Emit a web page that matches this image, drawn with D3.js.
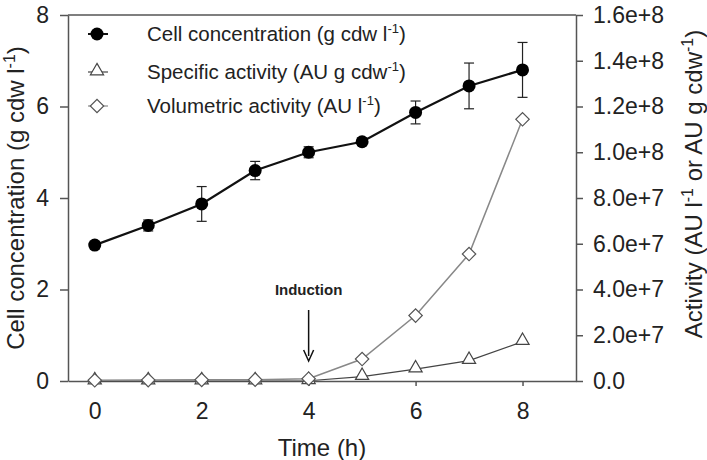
<!DOCTYPE html>
<html>
<head>
<meta charset="utf-8">
<script src="https://cdn.jsdelivr.net/npm/d3@7"></script>
<style>
  body { margin: 0; background: #fff; }
  svg text { font-family: "Liberation Sans", Arial, sans-serif; fill: #222; }
</style>
</head>
<body>
<div id="chart"></div>
<script>
// time points (h)
const time = [0, 1, 2, 3, 4, 5, 6, 7, 8];
// cell concentration (g cdw l-1) and its error
const cellConc = [2.97, 3.40, 3.87, 4.60, 5.00, 5.23, 5.87, 6.45, 6.80];
const cellErr = [0.08, 0.12, 0.38, 0.20, 0.12, 0.08, 0.25, 0.50, 0.60];
// specific activity (AU g cdw-1)
const specAct = [0, 0, 0, 0, 0.1e6, 1.9e6, 5.2e6, 8.9e6, 1.72e7];
// volumetric activity (AU l-1)
const volAct = [0.3e6, 0.4e6, 0.5e6, 0.6e6, 1.0e6, 9.6e6, 2.86e7, 5.55e7, 1.144e8];

const xTicks = [0, 2, 4, 6, 8];
const yLeftTicks = [0, 2, 4, 6, 8];
const yRightTicks = [0, 2e7, 4e7, 6e7, 8e7, 1e8, 1.2e8, 1.4e8, 1.6e8];

const legendLabels = [
  ["Cell concentration (g cdw l", "-1", ")"],
  ["Specific activity (AU g cdw", "-1", ")"],
  ["Volumetric activity (AU l", "-1", ")"]
];

const width = 707, height = 460;
const svg = d3.select("#chart").append("svg")
  .attr("width", width)
  .attr("height", height);

const x = d3.scaleLinear().domain([-0.5, 9]).range([68, 576]);
const yL = d3.scaleLinear().domain([0, 8]).range([381, 15]);
const yR = d3.scaleLinear().domain([0, 1.6e8]).range([381, 15]);

const axisColor = "#555";

// frame top line
svg.append("line")
  .attr("x1", x.range()[0]).attr("x2", x.range()[1])
  .attr("y1", yL.range()[1]).attr("y2", yL.range()[1])
  .attr("stroke", axisColor).attr("stroke-width", 1.5);

// axes
const gx = svg.append("g")
  .attr("transform", `translate(0,${yL.range()[0]})`)
  .call(d3.axisBottom(x).tickValues(xTicks).tickSize(5).tickPadding(17).tickSizeOuter(0));

const gl = svg.append("g")
  .attr("transform", `translate(${x.range()[0]},0)`)
  .call(d3.axisLeft(yL).tickValues(yLeftTicks).tickSize(8).tickPadding(11).tickSizeOuter(0));

const gr = svg.append("g")
  .attr("transform", `translate(${x.range()[1]},0)`)
  .call(d3.axisRight(yR).tickValues(yRightTicks).tickSize(7).tickPadding(10).tickSizeOuter(0)
    .tickFormat(d => d === 0 ? "0.0" : d3.format(".1e")(d)));

[gx, gl, gr].forEach(g => {
  g.selectAll("path, line").attr("stroke", axisColor).attr("stroke-width", 1.5);
  g.selectAll("text").style("font-size", "23px").attr("fill", "#222");
});

// axis titles
svg.append("text")
  .attr("x", x(4.25)).attr("y", 456)
  .attr("text-anchor", "middle")
  .style("font-size", "24px")
  .text("Time (h)");

const tl = svg.append("text")
  .attr("transform", `translate(24,${(yL.range()[0] + yL.range()[1]) / 2}) rotate(-90)`)
  .attr("text-anchor", "middle")
  .style("font-size", "24px");
tl.append("tspan").text("Cell concentration (g cdw l");
tl.append("tspan").attr("dy", -9).style("font-size", "16px").text("-1");
tl.append("tspan").attr("dy", 9).text(")");

const tr = svg.append("text")
  .attr("transform", `translate(702,184) rotate(-90)`)
  .attr("text-anchor", "middle")
  .style("font-size", "24px");
tr.append("tspan").text("Activity (AU l");
tr.append("tspan").attr("dy", -9).style("font-size", "16px").text("-1");
tr.append("tspan").attr("dy", 9).text(" or AU g cdw");
tr.append("tspan").attr("dy", -9).style("font-size", "16px").text("-1");
tr.append("tspan").attr("dy", 9).text(")");

// series lines
const lineVol = d3.line().x((d, i) => x(time[i])).y(d => yR(d));
const lineCell = d3.line().x((d, i) => x(time[i])).y(d => yL(d));

svg.append("path").datum(specAct)
  .attr("d", lineVol).attr("fill", "none")
  .attr("stroke", "#444").attr("stroke-width", 1.2);

svg.append("path").datum(volAct)
  .attr("d", lineVol).attr("fill", "none")
  .attr("stroke", "#888").attr("stroke-width", 1.5);

// error bars
const eb = svg.append("g").attr("stroke", "#222").attr("stroke-width", 1.2);
cellConc.forEach((v, i) => {
  const cx = x(time[i]);
  const top = yL(v + cellErr[i]), bot = yL(v - cellErr[i]);
  eb.append("line").attr("x1", cx).attr("x2", cx).attr("y1", top).attr("y2", bot);
  eb.append("line").attr("x1", cx - 5).attr("x2", cx + 5).attr("y1", top).attr("y2", top);
  eb.append("line").attr("x1", cx - 5).attr("x2", cx + 5).attr("y1", bot).attr("y2", bot);
});

svg.append("path").datum(cellConc)
  .attr("d", lineCell).attr("fill", "none")
  .attr("stroke", "#111").attr("stroke-width", 2.2);

// markers
const tri = d3.symbol().type(d3.symbolTriangle).size(75);
const dia = d3.symbol().type(d3.symbolSquare).size(90);

svg.append("g").selectAll("path").data(specAct).join("path")
  .attr("d", tri)
  .attr("transform", (d, i) => `translate(${x(time[i])},${yR(d) - 1})`)
  .attr("fill", "#fff").attr("stroke", "#444").attr("stroke-width", 1.2);

svg.append("g").selectAll("path").data(volAct).join("path")
  .attr("d", dia)
  .attr("transform", (d, i) => `translate(${x(time[i])},${yR(d)}) rotate(45)`)
  .attr("fill", "#fff").attr("stroke", "#555").attr("stroke-width", 1.2);

svg.append("g").selectAll("circle").data(cellConc).join("circle")
  .attr("cx", (d, i) => x(time[i]))
  .attr("cy", d => yL(d))
  .attr("r", 6.5)
  .attr("fill", "#000");

// induction annotation
svg.append("text")
  .attr("x", x(4)).attr("y", 295)
  .attr("text-anchor", "middle")
  .style("font-size", "15px").style("font-weight", "bold")
  .text("Induction");
svg.append("line")
  .attr("x1", x(4)).attr("x2", x(4))
  .attr("y1", 310).attr("y2", 356)
  .attr("stroke", "#111").attr("stroke-width", 1.5);
svg.append("path")
  .attr("d", `M${x(4) - 5},${350} L${x(4)},${361} L${x(4) + 5},${350}`)
  .attr("fill", "none").attr("stroke", "#111").attr("stroke-width", 1.5);

// legend
const legY = [34, 72, 106];
const leg = svg.append("g");
legendLabels.forEach((lab, i) => {
  const g = leg.append("g").attr("transform", `translate(97,${legY[i]})`);
  g.append("line").attr("x1", -9).attr("x2", 11).attr("y1", 0).attr("y2", 0)
    .attr("stroke", i === 0 ? "#111" : i === 1 ? "#444" : "#888")
    .attr("stroke-width", i === 0 ? 2 : 1.2);
  if (i === 0) {
    g.append("circle").attr("r", 6.5).attr("fill", "#000");
  } else if (i === 1) {
    g.append("path").attr("d", tri).attr("transform", "translate(0,-1)")
      .attr("fill", "#fff").attr("stroke", "#444").attr("stroke-width", 1.2);
  } else {
    g.append("path").attr("d", dia).attr("transform", "rotate(45)")
      .attr("fill", "#fff").attr("stroke", "#555").attr("stroke-width", 1.2);
  }
  const t = g.append("text").attr("x", 50).attr("y", 7).style("font-size", "20.5px");
  t.append("tspan").text(lab[0]);
  t.append("tspan").attr("dy", -8).style("font-size", "13px").text(lab[1]);
  t.append("tspan").attr("dy", 8).text(lab[2]);
});
</script>
</body>
</html>
